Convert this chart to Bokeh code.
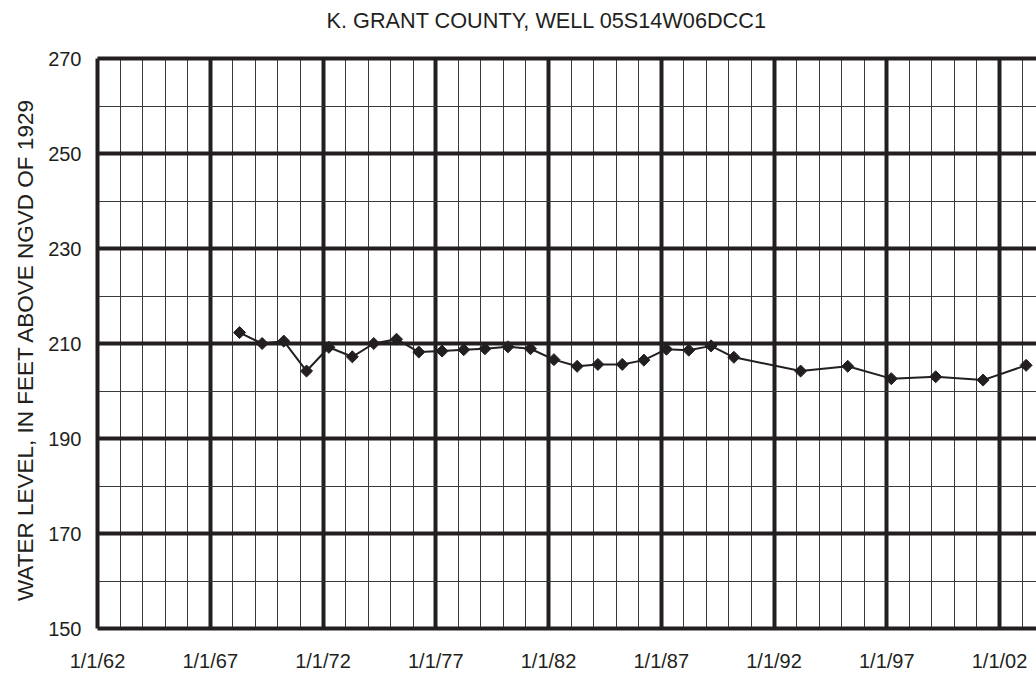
from bokeh.plotting import figure
from bokeh.models import FixedTicker, LinearAxis, Range1d
from bokeh.embed import file_html
from bokeh.resources import INLINE

# ---- data (decimal year of measurement, water level in ft above NGVD 1929) ----
years = [1968.30, 1969.30, 1970.26, 1971.27, 1972.26, 1973.30, 1974.25, 1975.26,
         1976.25, 1977.28, 1978.24, 1979.18, 1980.20, 1981.20, 1982.24, 1983.27,
         1984.19, 1985.27, 1986.23, 1987.23, 1988.22, 1989.21, 1990.22, 1993.18,
         1995.27, 1997.20, 1999.17, 2001.27, 2003.18]
levels = [212.3, 210.0, 210.5, 204.2, 209.2, 207.2, 210.0, 210.9,
          208.2, 208.4, 208.7, 208.9, 209.3, 208.9, 206.6, 205.2,
          205.6, 205.6, 206.5, 208.8, 208.6, 209.5, 207.1, 204.2,
          205.2, 202.6, 203.0, 202.3, 205.4]

x_major_ticks = [1962, 1967, 1972, 1977, 1982, 1987, 1992, 1997, 2002]
x_tick_labels = ["1/1/62", "1/1/67", "1/1/72", "1/1/77", "1/1/82",
                 "1/1/87", "1/1/92", "1/1/97", "1/1/02"]
x_minor_ticks = list(range(1962, 2005))
y_major_ticks = [150, 170, 190, 210, 230, 250, 270]
y_minor_ticks = [160, 180, 200, 220, 240, 260]

title_text = "K. GRANT COUNTY, WELL 05S14W06DCC1"
y_label = "WATER LEVEL,  IN  FEET ABOVE NGVD OF 1929"

INK = "#231f20"
FONT = "Liberation Sans"

p = figure(width=1036, height=675,
           x_range=Range1d(1962, 2003.64), y_range=Range1d(150, 270),
           output_backend="svg", toolbar_location=None,
           min_border_left=97, min_border_right=0,
           min_border_top=58, min_border_bottom=47)
p.outline_line_color = None
p.background_fill_color = "white"
p.border_fill_color = "white"

p.title.text = title_text
p.title.text_font = FONT
p.title.text_font_size = "21.7px"
p.title.text_font_style = "normal"
p.title.text_color = INK
p.title.align = "left"
p.title.vertical_align = "top"
p.title.offset = 229
p.title.standoff = 14

p.xaxis.ticker = FixedTicker(ticks=x_major_ticks, minor_ticks=x_minor_ticks)
p.yaxis.ticker = FixedTicker(ticks=y_major_ticks, minor_ticks=y_minor_ticks)
p.xaxis.major_label_overrides = {t: l for t, l in zip(x_major_ticks, x_tick_labels)}

for ax in (p.xaxis, p.yaxis):
    ax.major_tick_out = 0
    ax.major_tick_in = 0
    ax.minor_tick_out = 0
    ax.minor_tick_in = 0
    ax.axis_line_width = 4
    ax.axis_line_color = INK
    ax.major_label_text_font = FONT
    ax.major_label_text_font_size = "20px"
    ax.major_label_text_color = INK

p.xaxis.major_label_standoff = 21
p.yaxis.major_label_standoff = 16
p.yaxis.axis_label = y_label
p.yaxis.axis_label_text_font = FONT
p.yaxis.axis_label_text_font_size = "22.5px"
p.yaxis.axis_label_text_font_style = "normal"
p.yaxis.axis_label_text_color = INK
p.yaxis.axis_label_standoff = 7

# top border line; its (practically invisible) outward ticks reserve space so the
# title sits higher in the top margin
top = LinearAxis(ticker=FixedTicker(ticks=x_major_ticks), axis_line_width=4,
                 axis_line_color=INK,
                 major_tick_out=17, major_tick_in=0, minor_tick_out=0, minor_tick_in=0,
                 major_tick_line_color=INK, major_tick_line_alpha=0.001,
                 major_label_overrides={t: "" for t in x_major_ticks},
                 major_label_text_font_size="0px", major_label_standoff=0)
p.add_layout(top, "above")

for g in (p.xgrid, p.ygrid):
    g.grid_line_color = INK
    g.grid_line_width = 4
    g.grid_line_alpha = 1.0
    g.minor_grid_line_color = "#3a3a3a"
    g.minor_grid_line_width = 1
    g.level = "underlay"

p.line(years, levels, line_color=INK, line_width=2)
p.scatter(years, levels, marker="square", angle=0.785398, size=8.5,
          fill_color=INK, line_color=INK)

open("out.html", "w").write(file_html(p, INLINE))
